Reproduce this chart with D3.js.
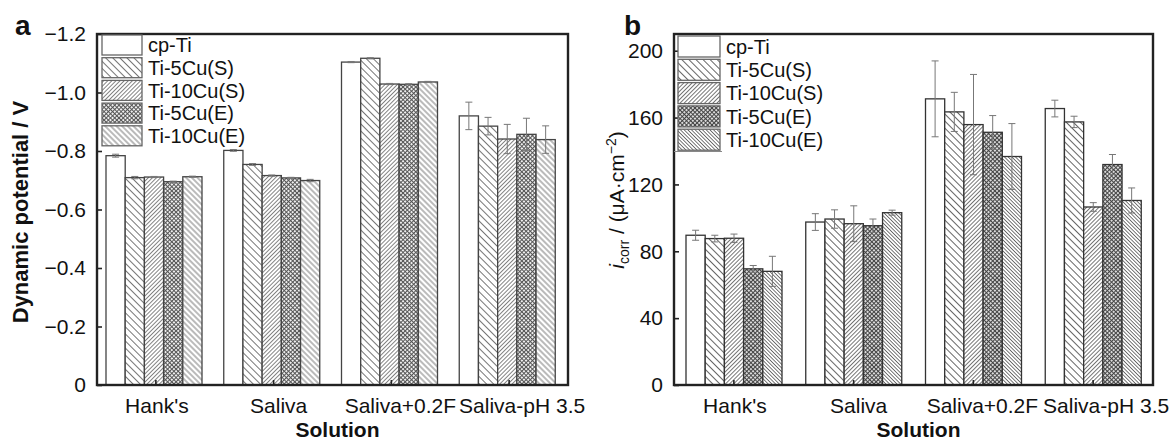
<!DOCTYPE html>
<html>
<head>
<meta charset="utf-8">
<script src="https://cdn.jsdelivr.net/npm/d3@7"></script>
<style>
  body { margin: 0; background: #fff; }
  text { font-family: "Liberation Sans", Arial, sans-serif; fill: #111; }
</style>
</head>
<body>
<script>
const categories = ["Hank's", "Saliva", "Saliva+0.2F", "Saliva-pH 3.5"];
const series = ["cp-Ti", "Ti-5Cu(S)", "Ti-10Cu(S)", "Ti-5Cu(E)", "Ti-10Cu(E)"];

// panel a: dynamic potential (V), one row per series, one column per solution
const potential = [
    [-0.784, -0.802, -1.104, -0.920],
    [-0.709, -0.754, -1.117, -0.885],
    [-0.711, -0.716, -1.029, -0.841],
    [-0.695, -0.708, -1.028, -0.857],
    [-0.712, -0.699, -1.036, -0.839]
];
const potentialErr = [
    [0.005, 0.003, 0.002, 0.047],
    [0.004, 0.003, 0.002, 0.030],
    [0.002, 0.002, 0.002, 0.050],
    [0.002, 0.002, 0.002, 0.055],
    [0.002, 0.004, 0.002, 0.047]
];
const potentialTicks = [0, -0.2, -0.4, -0.6, -0.8, -1.0, -1.2];

// panel b: i_corr (uA/cm2)
const icorr = [
    [89.6, 97.5, 171.2, 165.4],
    [87.6, 99.3, 163.4, 157.4],
    [87.8, 96.5, 155.8, 106.5],
    [69.5, 95.3, 151.2, 131.9],
    [68.0, 103.1, 136.7, 110.4]
];
const icorrErr = [
    [3.0, 5.0, 22.7, 5.0],
    [2.0, 5.5, 11.7, 3.4],
    [2.5, 10.7, 30.0, 2.6],
    [2.0, 4.0, 10.0, 6.0],
    [9.0, 1.5, 19.7, 7.5]
];
const icorrTicks = [0, 40, 80, 120, 160, 200];

const svg = d3.select("body").append("svg")
    .attr("width", 1175)
    .attr("height", 444);

const defs = svg.append("defs");

function hatch(id, size, angle, color, sw) {
    const pat = defs.append("pattern")
        .attr("id", id)
        .attr("patternUnits", "userSpaceOnUse")
        .attr("width", size).attr("height", size)
        .attr("patternTransform", "rotate(" + angle + ")");
    pat.append("rect").attr("width", size).attr("height", size).attr("fill", "#fff");
    pat.append("line")
        .attr("x1", size / 2).attr("y1", 0).attr("x2", size / 2).attr("y2", size)
        .attr("stroke", color).attr("stroke-width", sw);
}

function checker(id, size, color, sw) {
    const pat = defs.append("pattern")
        .attr("id", id)
        .attr("patternUnits", "userSpaceOnUse")
        .attr("width", size).attr("height", size)
        .attr("patternTransform", "rotate(45)");
    pat.append("rect").attr("width", size).attr("height", size).attr("fill", "#fff");
    pat.append("line").attr("x1", size / 2).attr("y1", 0).attr("x2", size / 2).attr("y2", size)
        .attr("stroke", color).attr("stroke-width", sw);
    pat.append("line").attr("x1", 0).attr("y1", size / 2).attr("x2", size).attr("y2", size / 2)
        .attr("stroke", color).attr("stroke-width", sw);
}

// patterns, panel a is a bit lighter than panel b
hatch("a1", 5, -45, "#666", 0.9);
hatch("a2", 2.9, 45, "#666", 0.8);
checker("a3", 3, "#555", 1.1);
hatch("a4", 4, -45, "#666", 0.9);
hatch("b1", 5, -45, "#555", 0.9);
hatch("b2", 2.9, 45, "#555", 0.8);
checker("b3", 3, "#444", 1.2);
hatch("b4", 2.6, -45, "#555", 0.8);

function drawPanel(p) {
    const g = svg.append("g");

    const x = d3.scaleBand().domain(categories).range([p.left, p.right]);
    const xs = d3.scaleBand().domain(series).range(p.inner);
    const y = d3.scaleLinear().domain(p.domain).range([p.bottom, p.top]);

    const fills = ["#fff"].concat([1, 2, 3, 4].map(function (k) { return "url(#" + p.id + k + ")"; }));

    series.forEach(function (s, si) {
        const rows = categories.map(function (c, ci) {
            return {c: c, v: p.values[si][ci], e: p.errors[si][ci]};
        });

        g.selectAll(null).data(rows).enter().append("rect")
            .attr("x", function (d) { return x(d.c) + xs(s); })
            .attr("y", function (d) { return y(d.v); })
            .attr("width", xs.bandwidth())
            .attr("height", function (d) { return y(0) - y(d.v); })
            .attr("fill", fills[si])
            .attr("stroke", p.barStroke)
            .attr("stroke-width", 1.3);

        const eb = g.selectAll(null).data(rows).enter().append("g")
            .attr("transform", function (d) { return "translate(" + (x(d.c) + xs(s) + xs.bandwidth() / 2) + ",0)"; })
            .attr("stroke", "#777")
            .attr("stroke-width", 1);
        eb.append("line")
            .attr("y1", function (d) { return y(d.v - d.e); })
            .attr("y2", function (d) { return y(d.v + d.e); });
        eb.append("line").attr("x1", -3.5).attr("x2", 3.5)
            .attr("y1", function (d) { return y(d.v - d.e); })
            .attr("y2", function (d) { return y(d.v - d.e); });
        eb.append("line").attr("x1", -3.5).attr("x2", 3.5)
            .attr("y1", function (d) { return y(d.v + d.e); })
            .attr("y2", function (d) { return y(d.v + d.e); });
    });

    // axes
    const yAxis = g.append("g")
        .attr("transform", "translate(" + p.left + ",0)")
        .call(d3.axisLeft(y).tickValues(p.ticks).tickSize(-5).tickPadding(11).tickFormat(p.fmt));
    const xAxis = g.append("g")
        .attr("transform", "translate(0," + p.bottom + ")")
        .call(d3.axisBottom(x).tickSize(-5).tickPadding(13));

    [yAxis, xAxis].forEach(function (ax) {
        ax.select(".domain").remove();
        ax.selectAll("line").attr("stroke", "#222").attr("stroke-width", 1.6);
        ax.selectAll("text").style("font-size", "21px").attr("fill", "#111");
    });
    xAxis.selectAll("text")
        .attr("dx", function (d, i) { return 1 + 4 * i; });

    g.append("rect")
        .attr("x", p.left).attr("y", p.top)
        .attr("width", p.right - p.left).attr("height", p.bottom - p.top)
        .attr("fill", "none").attr("stroke", "#222").attr("stroke-width", 2.4);

    // legend
    const leg = g.selectAll(".legend").data(series).enter().append("g")
        .attr("class", "legend")
        .attr("transform", function (d, i) { return "translate(" + p.legend.x + "," + (p.legend.y + i * p.legend.step) + ")"; });
    leg.append("rect")
        .attr("width", p.legend.w).attr("height", p.legend.h)
        .attr("fill", function (d, i) { return fills[i]; })
        .attr("stroke", "#666").attr("stroke-width", 1.3);
    leg.append("text")
        .attr("x", p.legend.w + 6)
        .attr("y", p.legend.h / 2)
        .attr("dy", "0.36em")
        .style("font-size", "20px")
        .text(function (d) { return d; });

    if (p.legend.underline) {
        g.append("line")
            .attr("x1", p.legend.x - 4).attr("x2", p.legend.x + p.legend.w + 2)
            .attr("y1", p.legend.y + 5 * p.legend.step - 1).attr("y2", p.legend.y + 5 * p.legend.step - 1)
            .attr("stroke", "#888").attr("stroke-width", 1.2);
    }

    // titles
    g.append("text")
        .attr("x", (p.left + p.right) / 2 + 5)
        .attr("y", 437)
        .attr("text-anchor", "middle")
        .style("font-size", "21px")
        .style("font-weight", "bold")
        .text("Solution");

    g.append("text")
        .attr("x", p.letterX).attr("y", 35)
        .style("font-size", "28px")
        .style("font-weight", "bold")
        .text(p.letter);

    p.yTitle(g, y);
}

drawPanel({
    id: "a", letter: "a", letterX: 15,
    left: 97, right: 568, top: 34, bottom: 385,
    inner: [9, 105],
    domain: [0, -1.2],
    ticks: potentialTicks,
    fmt: function (d) { return d === 0 ? "0" : d3.format(".1f")(d); },
    values: potential, errors: potentialErr,
    barStroke: "#444",
    legend: {x: 102, y: 35, w: 40, h: 20, step: 22.7, underline: false},
    yTitle: function (g) {
        g.append("text")
            .attr("transform", "translate(28,212) rotate(-90)")
            .attr("text-anchor", "middle")
            .style("font-size", "22px")
            .style("font-weight", "bold")
            .text("Dynamic potential / V");
    }
});

drawPanel({
    id: "b", letter: "b", letterX: 624,
    left: 674, right: 1153, top: 34, bottom: 385,
    inner: [12, 108],
    domain: [0, 210],
    ticks: icorrTicks,
    fmt: d3.format("d"),
    values: icorr, errors: icorrErr,
    barStroke: "#333",
    legend: {x: 678, y: 36, w: 42, h: 21, step: 23.3, underline: true},
    yTitle: function (g) {
        const t = g.append("text")
            .attr("transform", "translate(624,200) rotate(-90)")
            .attr("text-anchor", "middle")
            .style("font-size", "21px");
        t.append("tspan").style("font-style", "italic").text("i");
        t.append("tspan").attr("dy", 5).style("font-size", "14px").text("corr");
        t.append("tspan").attr("dy", -5).text(" / (μA·cm");
        t.append("tspan").attr("dy", -8).style("font-size", "14px").text("−2");
        t.append("tspan").attr("dy", 8).text(")");
    }
});
</script>
</body>
</html>
